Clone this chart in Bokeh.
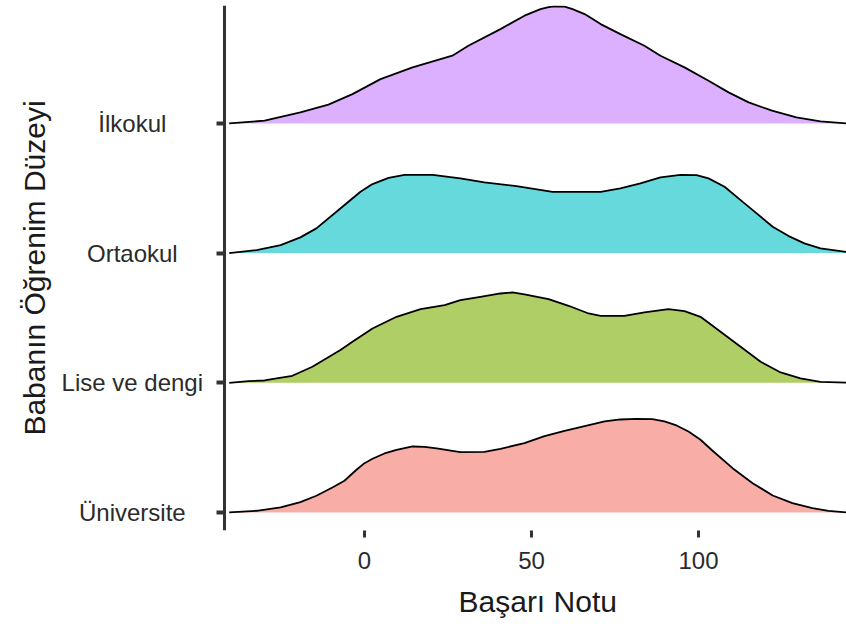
from bokeh.plotting import figure
from bokeh.models import Range1d, FixedTicker, CustomLabelingPolicy, Title
from bokeh.core.properties import value
from bokeh.embed import file_html
from bokeh.resources import INLINE

# Category labels (bottom to top) and their baseline positions
categories = ["Üniversite", "Lise ve dengi", "Ortaokul", "İlkokul"]
baselines = [1, 2, 3, 4]
fill_colors = ["#F9ADA7", "#B0CE66", "#66D9DC", "#DDB0FF"]

# Ridge heights (pixels above baseline, one row = 129.7 px)
x_ilkokul = [-40.5, -29.9, -19.2, -10.8, -3.6, 4.8, 14.4, 26.3, 31.1, 40.7, 47.9, 52.7, 55.1, 56.9,
             59.9, 62.3, 65.9, 70.7, 76.6, 83.8, 88.6, 95.8, 103, 109, 115, 122, 129.3, 136.5, 144.6]
h_ilkokul = [0, 2.7, 11, 18.7, 29.3, 44.3, 56, 67.7, 77.7, 94.3, 107.7, 114.3, 116.3, 117,
             116.7, 114.3, 109.3, 99.3, 89.3, 77.7, 67.7, 56, 42.7, 31, 21, 12.7, 6, 2, 0]

x_ortaokul = [-40.5, -32.3, -25.1, -19.2, -14.4, -8.4, -4.8, -1.2, 2.4, 7.2, 12.0, 20.4, 28.7,
              35.9, 45.5, 56.3, 70.7, 76.6, 82.6, 88.6, 94.6, 99.4, 103, 107.8, 112.6, 117.4,
              122.2, 127, 131.7, 136.5, 144.6]
h_ortaokul = [0, 3, 8, 15.7, 24.7, 41.3, 51.3, 61.3, 69, 75.3, 78.3, 78.3, 74.7,
              70.7, 67, 61.3, 61.3, 64.7, 69.7, 75.7, 78.3, 78, 74.7, 66.3, 53, 39.7,
              26.3, 17, 9.7, 4.7, 1.0]

x_lise = [-40.5, -34.7, -29.9, -26.3, -21.6, -15.6, -7.2, -3.6, 2.4, 9.6, 16.8, 24.0, 28.7,
          34.7, 40.7, 44.3, 47.9, 55.1, 61.1, 67.1, 70.7, 77.8, 83.8, 91, 95.8, 100.6,
          106.6, 112.6, 118.6, 124.6, 130.5, 136.5, 144.6]
h_lise = [0, 1.7, 2.3, 4.3, 7, 16, 32.7, 41, 54.3, 66, 73.7, 77.7, 82.7,
          86, 89.3, 90.3, 88.3, 83.7, 77, 69.3, 67, 67, 70.3, 73.7, 71.7, 66,
          51, 36, 21, 10.3, 4.3, 1, 0]

x_univ = [-40.5, -32.3, -25.1, -19.2, -14.4, -9.6, -6.0, -2.4, 0, 2.4, 6.0, 9.6, 14.4, 18.0,
          21.6, 28.7, 35.9, 40.7, 47.9, 53.9, 59.9, 65.9, 71.9, 76.6, 81.4, 86.2, 89.8,
          93.4, 97.0, 100.6, 104.2, 110.2, 116.2, 122.2, 128.1, 134.1, 138.9, 144.6]
h_univ = [0, 1.7, 5, 10.3, 16.7, 25, 31.7, 42.7, 49.3, 53.7, 59, 62.7, 66, 65.7,
          64, 60.3, 60.7, 63.7, 69.3, 76.3, 81.7, 86.3, 91, 93, 93.7, 93.3, 91,
          87, 81, 72.7, 61.7, 44.3, 29.3, 17, 9.3, 4.3, 1.7, 0]

x_ticks = [0, 50, 100]
row_px = 129.7

# layout constants (data units of the x scale)
x_start, x_end = -92.5, 144.3     # full frame, including the label area left of the y axis
y_axis_at = -41.9                 # where the y axis line sits
label_x = -69.5                   # centre of the category labels

series = [(x_univ, h_univ), (x_lise, h_lise), (x_ortaokul, h_ortaokul), (x_ilkokul, h_ilkokul)]

p = figure(width=846, height=631, output_backend="svg", toolbar_location=None,
           x_range=Range1d(x_start, x_end), y_range=Range1d(0.861, 4.909),
           min_border_left=55, min_border_right=0, min_border_top=5, min_border_bottom=101)
p.outline_line_color = None
p.grid.grid_line_color = None
p.background_fill_color = "white"

for (xs, hs), base, col in reversed(list(zip(series, baselines, fill_colors))):
    top = [base + h / row_px for h in hs]
    p.varea(x=xs, y1=[base] * len(xs), y2=top, fill_color=col, fill_alpha=1.0)
    p.line(x=xs, y=top, line_color="black", line_width=1.8, line_join="round")

font = "Liberation Sans"
text_col = "#1a1a1a"

# category labels, centred like the reference
p.text(x=[label_x] * len(categories), y=baselines, text=categories,
       text_align="center", text_baseline="middle",
       text_font=value(font), text_font_size=value("24px"), text_color="#2b2b2b")

# x axis
p.xaxis.ticker = FixedTicker(ticks=x_ticks)
p.xaxis.axis_line_color = None
p.xaxis.major_tick_line_color = "#333333"
p.xaxis.major_tick_line_width = 3
p.xaxis.major_tick_out = 7
p.xaxis.major_tick_in = 0
p.xaxis.minor_tick_line_color = None
p.xaxis.major_label_text_font = font
p.xaxis.major_label_text_font_size = "24px"
p.xaxis.major_label_text_color = "#2b2b2b"
p.xaxis.major_label_standoff = 14

# x axis title, centred under the plotting panel (right of the y axis)
p.add_layout(Title(text="Başarı Notu", align="left", offset=403, text_font=font,
                   text_font_size="30px", text_font_style="normal", text_color=text_col,
                   standoff=22), "below")

# y axis: line and ticks drawn at a fixed location inside the frame
p.yaxis.fixed_location = y_axis_at
p.yaxis.ticker = FixedTicker(ticks=baselines)
p.yaxis.major_label_policy = CustomLabelingPolicy(code="return []")
p.yaxis.major_label_standoff = 0
p.yaxis.axis_line_color = "#333333"
p.yaxis.axis_line_width = 3
p.yaxis.major_tick_line_color = "#333333"
p.yaxis.major_tick_line_width = 4
p.yaxis.major_tick_out = 8
p.yaxis.major_tick_in = 0
p.yaxis.minor_tick_line_color = None

# y axis title
p.add_layout(Title(text="Babanın Öğrenim Düzeyi", align="center", text_font=font,
                   text_font_size="30px", text_font_style="normal", text_color=text_col),
             "left")

open("out.html", "w").write(file_html(p, INLINE))
